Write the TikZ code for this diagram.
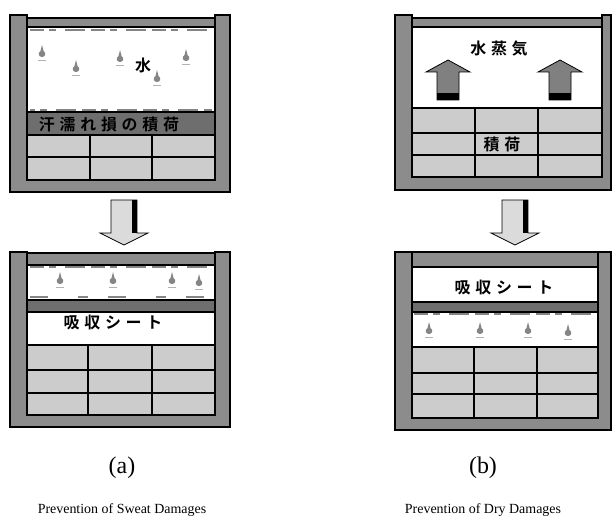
\documentclass[tikz,border=0pt]{standalone}
\usepackage{fontspec}
\setmainfont{Liberation Serif}
\newfontfamily\jfont[LetterSpace=30, BoldFont={Noto Sans CJK JP Bold}]{Noto Sans CJK JP}
\usetikzlibrary{positioning}
\definecolor{wallColor}{gray}{0.55}
\definecolor{bandColor}{gray}{0.43}
\definecolor{cargoColor}{gray}{0.80}
\definecolor{dropColor}{gray}{0.52}

\begin{document}
\begin{tikzpicture}[x=1bp,y=-1bp]

            \tikzstyle{wall} = [fill=wallColor, draw=black, line width=1.1bp];
            \tikzstyle{band} = [fill=bandColor, draw=black, line width=1.1bp];
            \tikzstyle{cargo} = [fill=cargoColor, draw=black, line width=1.1bp];
            \tikzstyle{sheet} = [fill=white, draw=black, line width=1.1bp];
            \tikzstyle{gridLine} = [black, line width=1.1bp];
            \tikzstyle{condense} = [dropColor, line width=2.5bp, dash pattern=on 14bp off 5bp on 7bp off 9bp on 20bp off 6bp];
            \tikzstyle{jtext} = [inner sep=0pt, font=\jfont\bfseries\fontsize{16}{16}\selectfont];
            \tikzstyle{downArrow} = [fill=black!14, draw=black, line width=0.8bp];
            \tikzstyle{upArrow} = [fill=black!50, draw=black, line width=0.8bp];

            \useasboundingbox (0,0) rectangle (612,518);

            % (a) hold before
            \draw[wall] (10,15) -- (10,192) -- (230,192) -- (230,15) -- (215,15)
                -- (215,180) -- (27,180) -- (27,15) -- cycle;
            \draw[wall] (27,18) rectangle (215,27);
            \draw[condense] (30,30) -- (212,30);
            \draw[condense, dash phase=9bp] (30,110) -- (212,110);
            \draw[band] (27,112) rectangle (215,135);
            \draw[cargo] (27,135) rectangle (215,180);
            \draw[gridLine] (27,157) -- (215,157);
            \foreach \x in {90,152}
                \draw[gridLine] (\x,135) -- (\x,180);
            \node[jtext] (sweatCargo) at (109,124) {汗濡れ損の積荷};
            \node[jtext] (waterA) at (143,65) {水};

            % (b) hold before
            \draw[wall] (395,15) -- (395,190) -- (611,190) -- (611,15) -- (602,15)
                -- (602,177) -- (412,177) -- (412,15) -- cycle;
            \draw[wall] (412,18) rectangle (602,27);
            \draw[cargo] (412,108) rectangle (602,177);
            \foreach \y in {133,155}
                \draw[gridLine] (412,\y) -- (602,\y);
            \foreach \x in {475,538}
                \draw[gridLine] (\x,108) -- (\x,177);
            \node[jtext] (vapour) at (499,49) {水蒸気};
            \node[jtext, fill=cargoColor] (cargoB) at (502,144) {積荷};

            % rising vapour
            \foreach \x in {448,560} {
                \draw[upArrow] (\x,60) -- (\x+22,72) -- (\x+11,72) -- (\x+11,100)
                    -- (\x-11,100) -- (\x-11,72) -- (\x-22,72) -- cycle;
                \fill[black] (\x-11,93) rectangle (\x+11,100);
            }

            % down arrows
            \foreach \x in {124,515} {
                \draw[downArrow] (\x-13,200) -- (\x+13,200) -- (\x+13,233) -- (\x+24,233)
                    -- (\x,245) -- (\x-24,233) -- (\x-13,233) -- cycle;
                \fill[black] (\x+8,200) rectangle (\x+13,233);
            }

            % (a) hold after
            \draw[wall] (10,252) -- (10,427) -- (230,427) -- (230,252) -- (215,252)
                -- (215,415) -- (27,415) -- (27,252) -- cycle;
            \draw[wall] (27,253) rectangle (215,265);
            \draw[condense] (30,267) -- (212,267);
            \draw[condense, dash pattern=on 18bp off 30bp on 10bp off 20bp] (30,297) -- (212,297);
            \draw[band] (27,300) rectangle (215,312);
            \draw[sheet] (27,312) rectangle (215,345);
            \draw[cargo] (27,345) rectangle (215,415);
            \foreach \y in {370,393}
                \draw[gridLine] (27,\y) -- (215,\y);
            \foreach \x in {88,152}
                \draw[gridLine] (\x,345) -- (\x,415);
            \node[jtext] (sheetA) at (113,323) {吸収シート};

            % (b) hold after
            \draw[wall] (395,252) -- (395,430) -- (611,430) -- (611,252) -- (598,252)
                -- (598,418) -- (412,418) -- (412,252) -- cycle;
            \draw[wall] (412,252) rectangle (598,267);
            \draw[sheet] (412,267) rectangle (598,302);
            \draw[band] (412,302) rectangle (598,312);
            \draw[condense] (414,314) -- (596,314);
            \draw[cargo] (412,347) rectangle (598,418);
            \foreach \y in {373,394}
                \draw[gridLine] (412,\y) -- (598,\y);
            \foreach \x in {474,537}
                \draw[gridLine] (\x,347) -- (\x,418);
            \node[jtext] (sheetB) at (504,288) {吸収シート};

            % drops of water
            \foreach \x/\y in {42/53, 76/68, 120/58, 157/78, 186/57,
                               60/280, 113/280, 172/280, 199/282,
                               429/330, 480/330, 528/330, 568/332} {
                \fill[dropColor] (\x,\y-8) -- (\x+1.5,\y-2) .. controls (\x+4.5,\y) and (\x+3.5,\y+4)
                    .. (\x,\y+4) .. controls (\x-3.5,\y+4) and (\x-4.5,\y) .. (\x-1.5,\y-2) -- cycle;
                \draw[black!30, line width=0.8bp] (\x-4,\y+7) -- (\x+4,\y+7);
            }

            % captions
            \node (tagA) at (122,468) {\fontsize{24}{26}\selectfont (a)};
            \node (tagB) at (483,468) {\fontsize{24}{26}\selectfont (b)};
            \node (captionA) at (122,510) {\fontsize{14}{16}\selectfont Prevention of Sweat Damages};
            \node (captionB) at (483,510) {\fontsize{14}{16}\selectfont Prevention of Dry Damages};
          \end{tikzpicture}
\end{document}
